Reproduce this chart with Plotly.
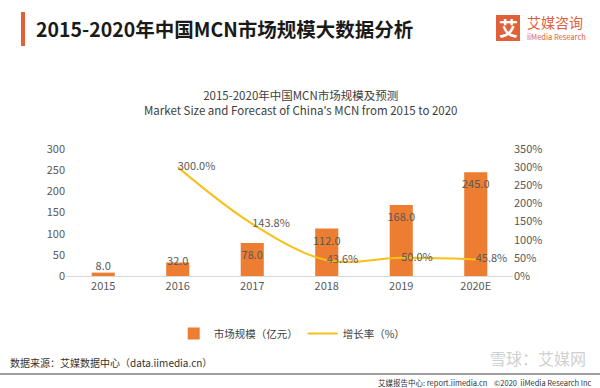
import plotly.graph_objects as go

categories = ["2015", "2016", "2017", "2018", "2019", "2020E"]
market_size = [8.0, 32.0, 78.0, 112.0, 168.0, 245.0]
growth_cats = ["2016", "2017", "2018", "2019", "2020E"]
growth_rate = [300.0, 143.8, 43.6, 50.0, 45.8]
left_ticks = [0, 50, 100, 150, 200, 250, 300]
right_ticks = [0, 50, 100, 150, 200, 250, 300, 350]

W, H = 600, 388
FONT = "Noto Sans CJK SC"
ORANGE = "#ED7D31"
YELLOW = "#F5C11A"
GRAY = "#595959"

def py(p):
    return 1 - p / H

def px(p):
    return p / W

fig = go.Figure()
fig.add_trace(go.Bar(
    x=categories, y=market_size, name="市场规模（亿元）",
    marker=dict(color=ORANGE, line=dict(width=0)), width=0.31,
    text=[f"{v:.1f}" for v in market_size],
    textposition=["none", "none"] + ["inside"] * 4, textangle=0,
    insidetextanchor="end", constraintext="none",
    insidetextfont=dict(size=11, color=GRAY, family=FONT),
))
fig.add_trace(go.Scatter(
    x=categories[:2], y=market_size[:2], mode="text", showlegend=False, hoverinfo="skip",
    text=[f"{v:.1f}" for v in market_size[:2]],
    textposition=["top center", "middle center"],
    textfont=dict(size=11, color=GRAY, family=FONT), cliponaxis=False,
))
fig.add_trace(go.Scatter(
    x=growth_cats, y=growth_rate, name="增长率（%）", yaxis="y2",
    mode="lines+text", line=dict(color=YELLOW, width=2, shape="spline", smoothing=1.0),
    text=[f"{v:.1f}%" for v in growth_rate], textposition="middle right",
    textfont=dict(size=11, color=GRAY, family=FONT), cliponaxis=False,
))

fig.update_layout(
    width=W, height=H, margin=dict(l=0, r=0, t=0, b=0, autoexpand=False),
    paper_bgcolor="white", plot_bgcolor="white",
    font=dict(family=FONT, color=GRAY, size=11),
    bargap=0.69, showlegend=True,
    legend=dict(orientation="h", x=0.487, xanchor="center", y=py(319), yanchor="top",
                font=dict(size=10.5, color="#404040"), itemwidth=30, traceorder="normal"),
    xaxis=dict(domain=[px(66), px(513)], showline=True, linecolor="#D9D9D9", linewidth=1,
               ticks="", showgrid=False, tickfont=dict(size=11, color=GRAY), anchor="y",
               automargin=False),
    yaxis=dict(domain=[py(276), py(149)], range=[0, 300], tickvals=left_ticks,
               showgrid=False, zeroline=False, showline=False, ticks="",
               tickfont=dict(size=11, color=GRAY), automargin=False),
    yaxis2=dict(overlaying="y", side="right", range=[0, 350], tickvals=right_ticks,
                ticktext=[f"{v}%" for v in right_ticks], showgrid=False, zeroline=False,
                showline=False, ticks="", tickfont=dict(size=11, color=GRAY), automargin=False),
)

shapes = [
    dict(type="rect", xref="paper", yref="paper", x0=px(21), x1=px(25), y0=py(46), y1=py(12),
         fillcolor="#E0603A", line=dict(width=0)),
    dict(type="rect", xref="paper", yref="paper", x0=px(496), x1=px(520), y0=py(41), y1=py(15),
         fillcolor="#E0603A", line=dict(width=0)),
    dict(type="line", xref="paper", yref="paper", x0=0, x1=1, y0=py(374), y1=py(374),
         line=dict(color="#808080", width=1.5)),
]
annotations = [
    dict(text="<b>2015-2020年中国MCN市场规模大数据分析</b>", x=px(34), y=py(29), xref="paper", yref="paper",
         xanchor="left", yanchor="middle", showarrow=False, font=dict(size=19.5, color="#1a1a1a", family=FONT)),
    dict(text="<b>艾</b>", x=px(508), y=py(28), xref="paper", yref="paper", xanchor="center", yanchor="middle",
         showarrow=False, font=dict(size=19, color="white", family=FONT)),
    dict(text="艾媒咨询", x=px(525), y=py(22), xref="paper", yref="paper", xanchor="left", yanchor="middle",
         showarrow=False, font=dict(size=14, color="#E0603A", family=FONT)),
    dict(text="iiMedia Research", x=px(525), y=py(36), xref="paper", yref="paper", xanchor="left", yanchor="middle",
         showarrow=False, font=dict(size=7.5, color="#E0603A", family=FONT)),
    dict(text="2015-2020年中国MCN市场规模及预测<br>Market Size and Forecast of China's MCN from 2015 to 2020",
         x=px(300), y=py(103), xref="paper", yref="paper", xanchor="center", yanchor="middle",
         showarrow=False, font=dict(size=11.5, color="#404040", family=FONT)),
    dict(text="数据来源：艾媒数据中心（data.iimedia.cn）", x=px(8), y=py(362), xref="paper", yref="paper",
         xanchor="left", yanchor="middle", showarrow=False, font=dict(size=10, color="#333333", family=FONT)),
    dict(text="雪球：艾媒网", x=px(588), y=py(358), xref="paper", yref="paper", xanchor="right", yanchor="middle",
         showarrow=False, font=dict(size=16, color="#D0D0D0", family=FONT)),
    dict(text="艾媒报告中心: report.iimedia.cn    ©2020  iiMedia Research Inc", x=px(594), y=py(382),
         xref="paper", yref="paper", xanchor="right", yanchor="middle", showarrow=False,
         font=dict(size=7.5, color="#333333", family=FONT)),
]
fig.update_layout(shapes=shapes, annotations=annotations)

fig.write_html("out.html", config={"displayModeBar": False},
               post_script="document.body.style.margin='0px';")
